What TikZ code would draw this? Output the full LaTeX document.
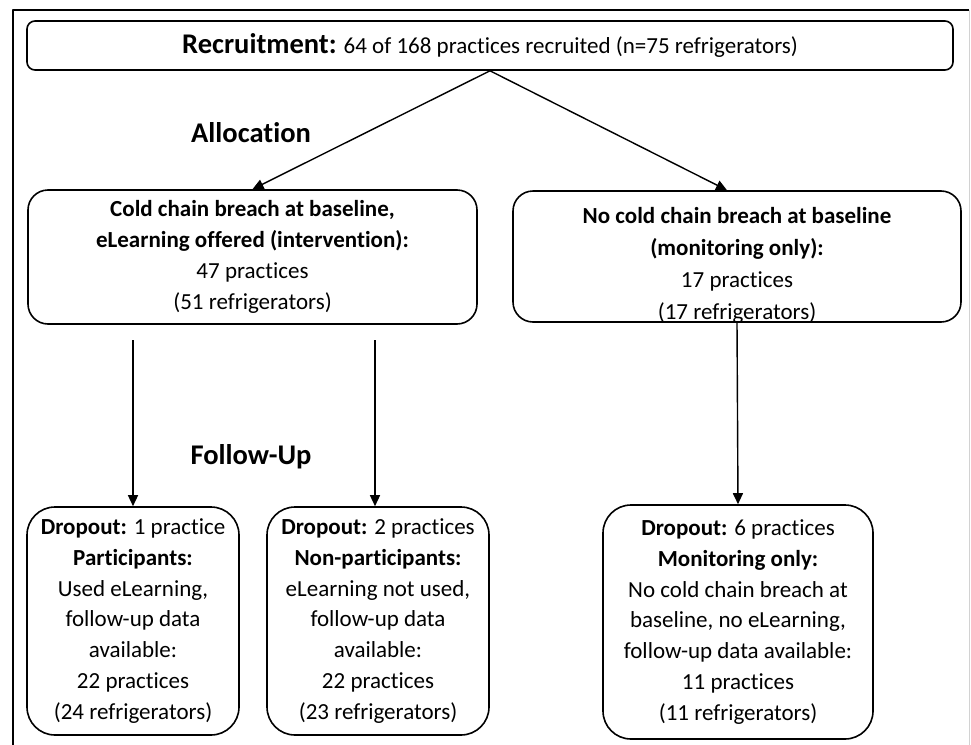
\documentclass[tikz,border=0pt]{standalone}
\usepackage{fontspec}
\setmainfont{Carlito}[Ligatures=NoCommon]
\usetikzlibrary{arrows.meta}

\begin{document}
\begin{tikzpicture}[x=1pt, y=-1pt, >={Triangle[length=11pt,width=10pt]}, line join=round,
	box/.style={draw, line width=1.6pt, align=center, inner sep=0pt, font=\fontsize{23}{31}\selectfont},
	topbox/.style={box, rounded corners=8pt},
	midbox/.style={box, rounded corners=20pt},
	endbox/.style={box, rounded corners=28pt, font=\fontsize{23}{30.7}\selectfont},
	stage/.style={font=\fontsize{28.5}{34}\selectfont\bfseries},
	link/.style={->, line width=1.4pt}]
	%% Khung
	\useasboundingbox (0,0) rectangle (971,744);
	\draw [line width=2.5pt] (13,746) -- (13,10) -- (969,10);
	\draw [gray!35, line width=1pt] (969.5,10) -- (969.5,746);
	%% Cac hop
	\node [topbox, minimum width=926pt, minimum height=49pt] (recruit) at (490,45.5)
	{{\fontsize{28.5}{34}\selectfont\bfseries Recruitment:} 64 of 168 practices recruited (n=75 refrigerators)};
	\node [midbox, minimum width=449pt, minimum height=134pt] (interv) at (252.5,257)
	{\bfseries Cold chain breach at baseline,\\ \bfseries eLearning offered (intervention):\\ 47 practices\\ (51 refrigerators)};
	\node [midbox, minimum width=448pt, minimum height=131pt] (nobreach) at (737,256.5) {};
	\node [align=center, inner sep=0pt, font=\fontsize{23}{32}\selectfont] (nobreachtext) at ([yshift=-8.5pt]nobreach.center)
	{\bfseries No cold chain breach at baseline\\ \bfseries (monitoring only):\\ 17 practices\\ (17 refrigerators)};
	\node [endbox, minimum width=212pt, minimum height=228pt] (partic) at (133,621)
	{\textbf{Dropout:} 1 practice\\ \bfseries Participants:\\ Used eLearning,\\ follow-up data\\ available:\\ 22 practices\\ (24 refrigerators)};
	\node [endbox, minimum width=222pt, minimum height=228pt] (nonpartic) at (378,621)
	{\textbf{Dropout:} 2 practices\\ \bfseries Non-participants:\\ eLearning not used,\\ follow-up data\\ available:\\ 22 practices\\ (23 refrigerators)};
	\node [endbox, minimum width=270pt, minimum height=234pt] (monit) at (738,622)
	{\textbf{Dropout:} 6 practices\\ \bfseries Monitoring only:\\ No cold chain breach at\\ baseline, no eLearning,\\ follow-up data available:\\ 11 practices\\ (11 refrigerators)};
	%% Nhan giai doan
	\node [stage] (alloc) at (251,133) {Allocation};
	\node [stage] (follow) at (251,457) {Follow-Up};
	%% Cac mui ten
	\coordinate (partictop) at (133,340);
	\coordinate (nonpartictop) at (375,340);
	\draw [link] (recruit.south) -- (interv.north);
	\draw [link] (recruit.south) -- ([xshift=-10pt]nobreach.north);
	\draw [link] (partictop) -- (partic.north);
	\draw [link] (nonpartictop) -- (nonpartictop |- nonpartic.north);
	\draw [link] (nobreach.south) -- (monit.north);
\end{tikzpicture}
\end{document}
